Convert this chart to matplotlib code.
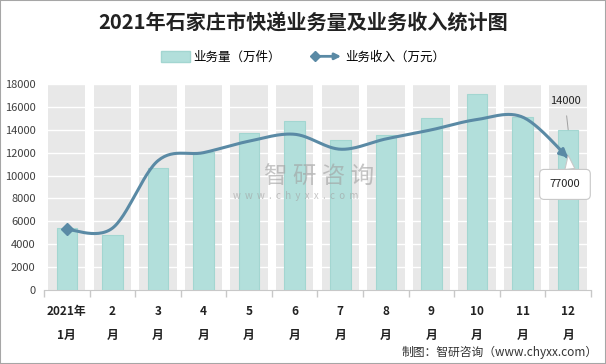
import numpy as np
import matplotlib
matplotlib.use('Agg')
import matplotlib.pyplot as plt
from matplotlib.patches import FancyArrowPatch, Rectangle, Patch
from matplotlib.path import Path
from matplotlib.lines import Line2D
from matplotlib.legend_handler import HandlerBase

plt.rcParams['font.family'] = ['Noto Sans CJK SC', 'DejaVu Sans']

# data
months = ['2021年\n1月', '2\n月', '3\n月', '4\n月', '5\n月', '6\n月',
          '7\n月', '8\n月', '9\n月', '10\n月', '11\n月', '12\n月']
volume = [5400, 4800, 10700, 12100, 13700, 14800, 13100, 13500, 15000, 17100, 15100, 14000]  # 万件
revenue = [35300, 36000, 75300, 80000, 86700, 90700, 82000, 88000, 93300, 99300, 100700, 77000]  # 万元
y_ticks = [0, 2000, 4000, 6000, 8000, 10000, 12000, 14000, 16000, 18000]

BAR_C = '#b2dfdb'
BAR_EC = '#a3d6d1'
LINE_C = '#5a8aa5'
BAND_C = '#e8e8e8'


def smooth(xs, ys, n=30):
  # excel-style smoothed line (catmull-rom as bezier)
  p = np.column_stack([xs, ys]).astype(float)
  out = [p[0]]
  for i in range(len(p) - 1):
    p0 = p[i - 1] if i > 0 else p[i]
    p1, p2 = p[i], p[i + 1]
    p3 = p[i + 2] if i + 2 < len(p) else p[i + 1]
    c1 = p1 + (p2 - p0) / 6
    c2 = p2 - (p3 - p1) / 6
    t = np.linspace(0, 1, n)[1:, None]
    seg = (1 - t)**3 * p1 + 3 * (1 - t)**2 * t * c1 + 3 * (1 - t) * t**2 * c2 + t**3 * p2
    out.extend(seg)
  return np.array(out)


class HandlerArrow(HandlerBase):
  def create_artists(self, legend, orig_handle, xdescent, ydescent, width, height, fontsize, trans):
    y = height / 2 - ydescent
    arr = FancyArrowPatch((-xdescent, y), (-xdescent + width, y), arrowstyle='-|>',
                          mutation_scale=9, color=LINE_C, lw=2, shrinkA=0, shrinkB=0,
                          transform=trans)
    mk = Line2D([-xdescent + 2], [y], marker='D', markersize=5, color=LINE_C,
                transform=trans)
    return [arr, mk]


fig = plt.figure(figsize=(6.06, 3.64), dpi=100)
ax = fig.add_axes([0.0726, 0.2033, 0.9026, 0.566])

x = np.arange(len(months))
ax.bar(x, [18000] * len(x), width=0.82, color=BAND_C, zorder=1)
for t in y_ticks[1:]:
  ax.axhline(t, color='white', lw=1, zorder=2)
ax.bar(x, volume, width=0.45, color=BAR_C, edgecolor=BAR_EC, lw=0.8, zorder=3)

ax.set_xlim(-0.5, len(x) - 0.5)
ax.set_ylim(0, 18000)
ax.set_yticks(y_ticks)
ax.set_yticklabels([str(t) for t in y_ticks], fontsize=8, color='#404040')
ax.tick_params(axis='y', length=0, pad=6)
ax.set_xticks(x)
ax.set_xticklabels(months, fontsize=8.5, fontweight='bold', color='#222222', linespacing=2.1)
ax.tick_params(axis='x', length=0, pad=11)
ax.set_xticks(np.arange(-0.5, len(x)), minor=True)
ax.tick_params(axis='x', which='minor', length=5, color='#c8c8c8', width=1)
for s in ['top', 'right', 'left']:
  ax.spines[s].set_visible(False)
ax.spines['bottom'].set_color('#c8c8c8')

# labels on last bar
ax.annotate('14000', xy=(11, volume[-1]), xytext=(10.93, 16500), fontsize=8,
            color='#222222', ha='center', va='center', zorder=6,
            arrowprops=dict(arrowstyle='-', color='#a0a0a0', lw=0.7, shrinkA=5, shrinkB=0))

# revenue line on hidden second axis
ax2 = ax.twinx()
ax2.set_ylim(0, 120000)
ax2.axis('off')
pts = smooth(x, revenue)
curve = FancyArrowPatch(path=Path(pts), arrowstyle='-|>', mutation_scale=12,
                        color=LINE_C, lw=2.2, shrinkA=0, shrinkB=0,
                        transform=ax2.transData, zorder=5)
ax2.add_patch(curve)
ax2.plot(x[0], revenue[0], marker='D', markersize=6, color=LINE_C, zorder=6)

ax2.annotate('77000', xy=(11.0, revenue[-1] + 1500), xytext=(10.93, 61500),
             fontsize=8, color='#222222', ha='center', va='center', zorder=7,
             bbox=dict(boxstyle='round,pad=0.9,rounding_size=0.4', fc='white', ec='#c8c8c8', lw=0.8),
             arrowprops=dict(arrowstyle='wedge,tail_width=0.9,shrink_factor=0.5',
                             fc='white', ec='#c8c8c8', lw=0.8,
                             relpos=(0.7, 1.0), shrinkA=0, shrinkB=0))

# watermark
fig.text(0.435, 0.513, '智 研 咨 询', fontsize=17, color='#a0a0a0', alpha=0.6,
         ha='left', va='center', zorder=10)
fig.text(0.385, 0.462, 'w  w  w  .  c  h  y  x  x  .  c  o  m', fontsize=7, color='#a0a0a0',
         alpha=0.6, ha='left', va='center', zorder=10)

fig.suptitle('2021年石家庄市快递业务量及业务收入统计图', x=0.5, y=0.965,
             fontsize=14.5, fontweight='bold', color='#222222')

fig.legend([Patch(fc=BAR_C, ec=BAR_EC), Line2D([], [])],
           ['业务量（万件）', '业务收入（万元）'],
           handler_map={Line2D: HandlerArrow()},
           loc='center', bbox_to_anchor=(0.5, 0.843), ncol=2, frameon=False,
           fontsize=9, handlelength=2.3, handleheight=0.9, columnspacing=2.5,
           handletextpad=0.3)

fig.text(0.987, 0.033, '制图：智研咨询（www.chyxx.com）', fontsize=8.5,
         color='#333333', ha='right', va='center')

fig.patches.append(Rectangle((0, 0), 1, 1, transform=fig.transFigure, fill=False,
                             ec='#a6a6a6', lw=1.5))

fig.savefig('out.png', dpi=100)
